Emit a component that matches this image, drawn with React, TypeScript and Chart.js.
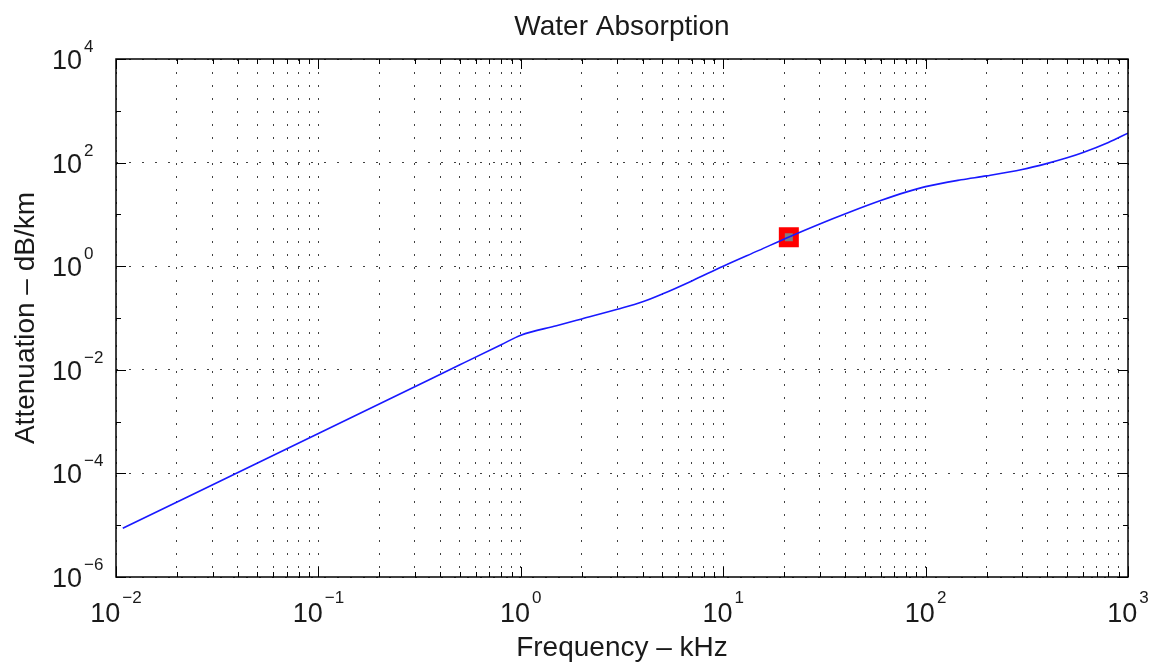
import React, { useEffect, useRef } from 'react';
import { Chart, registerables } from 'chart.js';

Chart.register(...registerables);

// ---- data ----
const freqKHz = [0.0108, 0.1, 0.5, 0.8, 1, 1.5, 2, 3, 4, 5, 7, 10, 15, 21, 30, 42, 60, 80, 100, 150, 200, 300, 400, 500, 600, 800, 1000];
const attenDbKm = [8.7e-6, 5.9e-4, 0.0125, 0.0305, 0.0466, 0.071, 0.096, 0.147, 0.205, 0.29, 0.52, 1.0, 2.02, 3.63, 6.54, 11.0, 18.5, 26.9, 34.4, 46.6, 55.4, 73.6, 96.7, 123.6, 156.6, 244.6, 370];
const markerFreq = [21.1];
const markerAtten = [3.63];

const xTickValues = [1e-2, 1e-1, 1, 10, 100, 1000];
const xTickExps = ['\u22122', '\u22121', '0', '1', '2', '3'];
const yTickValues = [1e-6, 1e-4, 1e-2, 1, 100, 1e4];
const yTickExps = ['\u22126', '\u22124', '\u22122', '0', '2', '4'];
const yDecades = [1e-6, 1e-5, 1e-4, 1e-3, 1e-2, 1e-1, 1, 10, 100, 1000, 1e4];

const titleText = 'Water Absorption';
const xTitleText = 'Frequency \u2013 kHz';
const yTitleText = 'Attenuation \u2013 dB/km';

const FONT = "'Liberation Sans', Arial, Helvetica, sans-serif";

// minor grid positions on the x axis (1..9 x 10^k)
const xGridValues: number[] = [];
for (let k = -2; k <= 2; k++) {
  for (let m = 1; m <= 9; m++) xGridValues.push(Number((m * Math.pow(10, k)).toPrecision(3)));
}
xGridValues.push(1000);

const decorPlugin = {
  id: 'decor',
  afterDraw(chart: any) {
    const { ctx, chartArea } = chart;
    const xs = chart.scales.x;
    const ys = chart.scales.y;
    const { left, right, top, bottom } = chartArea;
    ctx.save();

    // box
    ctx.strokeStyle = '#000';
    ctx.lineWidth = 1.5;
    ctx.strokeRect(left, top, right - left, bottom - top);

    // x ticks (inward, bottom and top)
    ctx.lineWidth = 1;
    ctx.beginPath();
    xGridValues.forEach((v) => {
      const px = Math.round(xs.getPixelForValue(v)) + 0.5;
      const major = xTickValues.some((t) => Math.abs(t - v) / t < 1e-6);
      const len = major ? 10 : 5;
      ctx.moveTo(px, bottom);
      ctx.lineTo(px, bottom - len);
      ctx.moveTo(px, top);
      ctx.lineTo(px, top + len);
    });
    // y ticks (inward, left and right)
    yDecades.forEach((v) => {
      const py = Math.round(ys.getPixelForValue(v)) + 0.5;
      const major = yTickValues.some((t) => Math.abs(t - v) / t < 1e-6);
      const len = major ? 10 : 5;
      ctx.moveTo(left, py);
      ctx.lineTo(left + len, py);
      ctx.moveTo(right, py);
      ctx.lineTo(right - len, py);
    });
    ctx.stroke();

    ctx.fillStyle = '#1a1a1a';
    const baseFont = `27px ${FONT}`;
    const expFont = `17px ${FONT}`;

    // x tick labels: "10" + superscript exponent, centred on tick
    xTickValues.forEach((v, i) => {
      const px = xs.getPixelForValue(v);
      ctx.font = baseFont;
      const w10 = ctx.measureText('10').width;
      ctx.font = expFont;
      const we = ctx.measureText(xTickExps[i]).width;
      const total = w10 + 2 + we;
      const x0 = px - total / 2;
      ctx.textBaseline = 'alphabetic';
      ctx.textAlign = 'left';
      ctx.font = baseFont;
      ctx.fillText('10', x0, bottom + 45);
      ctx.font = expFont;
      ctx.fillText(xTickExps[i], x0 + w10 + 2, bottom + 26);
    });

    // y tick labels: "10" right edge fixed, exponent to the right
    yTickValues.forEach((v, i) => {
      const py = ys.getPixelForValue(v);
      ctx.textBaseline = 'alphabetic';
      ctx.font = baseFont;
      ctx.textAlign = 'right';
      ctx.fillText('10', left - 34, py + 10);
      ctx.font = expFont;
      ctx.textAlign = 'left';
      ctx.fillText(yTickExps[i], left - 32, py - 7);
    });

    // titles
    const cx = (left + right) / 2;
    ctx.font = `28px ${FONT}`;
    ctx.textAlign = 'center';
    ctx.textBaseline = 'alphabetic';
    ctx.fillText(titleText, cx, 35);
    ctx.fillText(xTitleText, cx, bottom + 79);

    ctx.save();
    ctx.translate(34, (top + bottom) / 2);
    ctx.rotate(-Math.PI / 2);
    ctx.fillText(yTitleText, 0, 0);
    ctx.restore();

    ctx.restore();
  },
};

export default function App() {
  const canvasRef = useRef<HTMLCanvasElement | null>(null);

  useEffect(() => {
    if (!canvasRef.current) return;
    const gridDash = [2, 11];
    const chart = new Chart(canvasRef.current, {
      type: 'line',
      data: {
        datasets: [
          {
            label: 'Attenuation',
            data: freqKHz.map((f, i) => ({ x: f, y: attenDbKm[i] })),
            borderColor: 'rgb(25,25,255)',
            borderWidth: 1.6,
            pointRadius: 0,
            cubicInterpolationMode: 'monotone',
            fill: false,
          },
          {
            label: 'Marker',
            data: markerFreq.map((f, i) => ({ x: f, y: markerAtten[i] })),
            showLine: false,
            pointStyle: 'rect',
            pointRadius: 9.9,
            pointBorderWidth: 6,
            borderWidth: 6,
            pointBorderColor: '#ff0000',
            borderColor: '#ff0000',
            pointBackgroundColor: '#808080',
            backgroundColor: '#808080',
          },
        ],
      },
      options: {
        animation: false,
        responsive: false,
        maintainAspectRatio: false,
        layout: { padding: { left: 116, right: 27, top: 59, bottom: 87 } },
        plugins: {
          legend: { display: false },
          tooltip: { enabled: false },
          title: { display: false },
        },
        scales: {
          x: {
            type: 'logarithmic',
            min: 0.01,
            max: 1000,
            afterBuildTicks: (scale: any) => {
              scale.ticks = xGridValues.map((v) => ({ value: v }));
            },
            ticks: { display: false },
            grid: { color: 'rgba(0,0,0,0.75)', lineWidth: 1, drawTicks: false },
            border: { display: false, dash: gridDash },
          },
          y: {
            type: 'logarithmic',
            min: 1e-6,
            max: 1e4,
            afterBuildTicks: (scale: any) => {
              scale.ticks = yTickValues.map((v) => ({ value: v }));
            },
            ticks: { display: false },
            grid: { color: 'rgba(0,0,0,0.75)', lineWidth: 1, drawTicks: false },
            border: { display: false, dash: gridDash },
          },
        },
      },
      plugins: [decorPlugin],
    });
    return () => chart.destroy();
  }, []);

  return (
    <div style={{ position: 'fixed', left: 0, top: 0, width: 1155, height: 664, background: '#fff' }}>
      <canvas ref={canvasRef} width={1155} height={664} style={{ width: 1155, height: 664, display: 'block' }} />
    </div>
  );
}
